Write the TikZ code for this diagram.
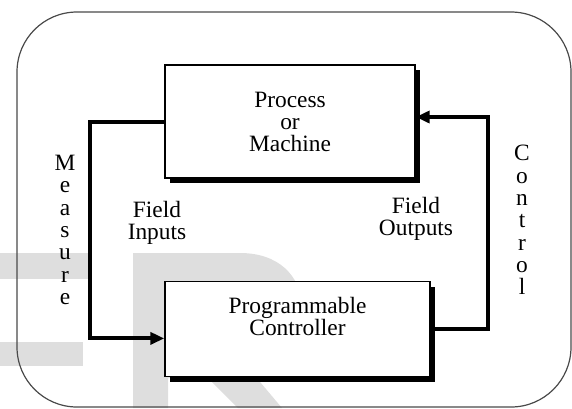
\documentclass[tikz,border=0pt]{standalone}
\usepackage{fontspec}
\setmainfont{Liberation Serif}
\usepackage{xcolor}
\definecolor{plcmark}{HTML}{DEDEDE}
\definecolor{plcframe}{HTML}{4A4A4A}
\usepackage{tikz}
\usetikzlibrary{arrows.meta,positioning,shadows}
\tikzset{
  plcbox/.style={draw,fill=white,line width=0.7pt,inner sep=0pt,drop shadow={shadow xshift=2.6pt,shadow yshift=-2.6pt,fill=black,opacity=1}},
  plctext/.style={align=center,font=\fontsize{11.7pt}{11pt}\selectfont,inner sep=0pt},
  plcletters/.style={align=center,font=\fontsize{11.7pt}{11.15pt}\selectfont,inner sep=0pt},
  plcflow/.style={-{Triangle[length=7pt,width=6pt]},line width=2pt},
}

\begin{document}
\begin{tikzpicture}[x=0.5pt,y=-0.5pt]
\useasboundingbox (0,0) rectangle (572,408);
% watermark behind everything
\fill[plcmark] (0,253) rectangle (89,279);
\fill[plcmark] (0,342) rectangle (83,366);
\fill[plcmark] (133,253) -- (240,253) .. controls (278,253) and (300,275) .. (302,305) -- (302,340) .. controls (300,360) and (280,372) .. (255,376) -- (282,408) -- (238,408) -- (208,378) -- (168,378) -- (168,408) -- (133,408) -- cycle;
\draw[plcframe,line width=0.6pt,rounded corners=30pt] (17,12) rectangle (571,407);
\node[plcbox,plctext,minimum width=125pt,minimum height=56.5pt] (proc) at (290,121.5) {Process\\or\\Machine};
\node[plcbox,minimum width=132.5pt,minimum height=47.5pt,below=51pt of proc,xshift=3.75pt] (ctrl) {};
\node[plctext] (ctrltext) at ([yshift=-18pt]ctrl.north) {Programmable\\Controller};
\node[plctext] (inputs) at (157,223) {Field\\Inputs};
\node[plctext] (outputs) at (416,219) {Field\\Outputs};
\node[plcletters] (measure) at (65,230) {M\\e\\a\\s\\u\\r\\e};
\node[plcletters] (control) at (522,220) {C\\o\\n\\t\\r\\o\\l};
\draw[plcflow] (proc.west) -- ++(-74,0) |- ([yshift=-4.75pt]ctrl.west);
\draw[plcflow] (ctrl.east) -- ++(57,0) |- ([yshift=2.25pt]proc.east);
\end{tikzpicture}
\end{document}
